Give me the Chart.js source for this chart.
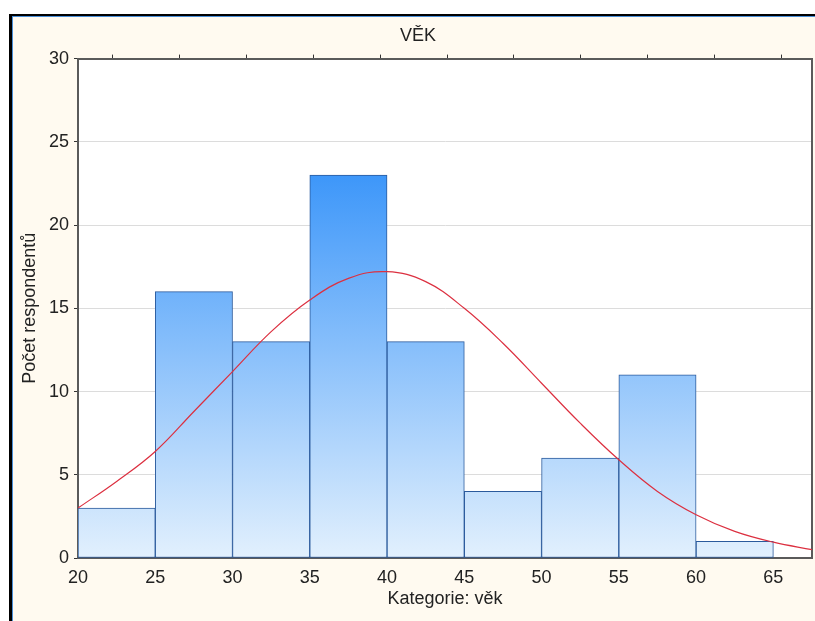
<!DOCTYPE html>
<html>
<head>
<meta charset="utf-8">
<script src="https://cdn.jsdelivr.net/npm/chart.js@4.4.1/dist/chart.umd.min.js"></script>
<style>
  html, body { margin: 0; padding: 0; background: #fff; }
  body { width: 815px; height: 621px; position: relative; overflow: hidden; }
  .frame {
    position: absolute; left: 9px; top: 14px; width: 806px; height: 607px;
    border-left: 3px solid #000; border-top: 2px solid #000; box-sizing: border-box;
  }
  .inner {
    width: 100%; height: 100%; box-sizing: border-box;
    border-left: 1px solid #4a8fd8; border-top: 1px solid #4a8fd8;
    background: #fffaf0;
  }
  #chart { position: absolute; left: 0; top: 0; }
</style>
</head>
<body>
<div class="frame"><div class="inner"></div></div>
<canvas id="chart" width="815" height="621"></canvas>
<script>
// histogram bins (midpoints of 5-year classes) and counts
const binMids = [22.5, 27.5, 32.5, 37.5, 42.5, 47.5, 52.5, 57.5, 62.5];
const counts = [3, 16, 13, 23, 13, 4, 6, 11, 1];

// fitted normal curve
const curveX = [20, 22.5, 25, 27.5, 30, 32.5, 35, 37.5, 40, 42.5, 45, 47.5, 50, 52.5, 55, 57.5, 60, 62.5, 65, 67.5];
const curveY = [3.0, 4.6, 6.4, 8.8, 11.2, 13.6, 15.5, 16.8, 17.2, 16.6, 15.0, 12.9, 10.5, 8.1, 5.9, 4.0, 2.6, 1.6, 0.95, 0.5];

const xTicks = [20, 25, 30, 35, 40, 45, 50, 55, 60, 65];
const yTicks = [0, 5, 10, 15, 20, 25, 30];
const topTicks = [0, 1, 2, 3, 4, 5, 6, 7, 8, 9, 10];

const FONT = '"Liberation Sans", Arial, sans-serif';
const TXT = '#222';

function barGradient(context) {
  const chart = context.chart;
  const area = chart.chartArea;
  if (!area) return '#8cc4fb';
  const y = chart.scales.y;
  const g = chart.ctx.createLinearGradient(0, y.getPixelForValue(25), 0, y.getPixelForValue(0));
  g.addColorStop(0, '#2f8ff9');
  g.addColorStop(1, '#e2f0fd');
  return g;
}

const plotBg = {
  id: 'plotBg',
  beforeDraw(chart) {
    const a = chart.chartArea;
    chart.ctx.save();
    chart.ctx.fillStyle = '#fff';
    chart.ctx.fillRect(a.left, a.top, a.right - a.left, a.bottom - a.top);
    chart.ctx.restore();
  }
};

const ctx = document.getElementById('chart').getContext('2d');
new Chart(ctx, {
  data: {
    datasets: [
      {
        type: 'line',
        data: curveX.map((x, i) => ({ x: x, y: curveY[i] })),
        borderColor: '#dc3040',
        borderWidth: 1.2,
        pointRadius: 0,
        tension: 0.4,
        order: 0
      },
      {
        type: 'bar',
        data: binMids.map((x, i) => ({ x: x, y: counts[i] })),
        backgroundColor: barGradient,
        borderColor: '#2a5a9c',
        borderWidth: 1,
        borderSkipped: false,
        barPercentage: 1,
        categoryPercentage: 1,
        order: 1
      }
    ]
  },
  options: {
    responsive: false,
    animation: false,
    devicePixelRatio: 1,
    layout: { padding: { left: 24, right: 3, top: 0, bottom: 0 } },
    plugins: {
      legend: { display: false },
      tooltip: { enabled: false },
      title: {
        display: true,
        text: 'VĚK',
        color: TXT,
        font: { family: FONT, size: 18, weight: 'normal' },
        padding: { top: 25, bottom: 8 }
      }
    },
    scales: {
      x: {
        type: 'linear',
        position: 'bottom',
        min: 20,
        max: 67.5,
        offset: false,
        afterBuildTicks: s => { s.ticks = xTicks.map(v => ({ value: v })); },
        afterFit: s => { s.height = 63; },
        ticks: { color: TXT, font: { family: FONT, size: 18 }, padding: 9, maxRotation: 0 },
        grid: { drawOnChartArea: false, drawTicks: false },
        border: { color: '#5a5a5a', width: 2 },
        title: {
          display: true,
          text: 'Kategorie: věk',
          color: TXT,
          font: { family: FONT, size: 18 },
          padding: { top: 0, bottom: 11 }
        }
      },
      x2: {
        type: 'linear',
        position: 'top',
        min: -0.51,
        max: 10.45,
        afterBuildTicks: s => { s.ticks = topTicks.map(v => ({ value: v })); },
        afterFit: s => { s.height = 4; },
        ticks: { display: false },
        grid: { drawOnChartArea: false, drawTicks: true, tickLength: 4, tickColor: '#333' },
        border: { color: '#5a5a5a', width: 2 }
      },
      y: {
        min: 0,
        max: 30,
        afterBuildTicks: s => { s.ticks = yTicks.map(v => ({ value: v })); },
        afterFit: s => { s.width = 54; },
        ticks: { color: TXT, font: { family: FONT, size: 18 }, padding: 5 },
        grid: { color: '#dcdcdc', tickLength: 4, tickColor: '#333' },
        border: { color: '#5a5a5a', width: 2 },
        title: {
          display: true,
          text: 'Počet respondentů',
          color: TXT,
          font: { family: FONT, size: 18 },
          padding: { top: -5, bottom: 0 }
        }
      },
      y2: {
        position: 'right',
        min: 0,
        max: 30,
        afterFit: s => { s.width = 0; },
        ticks: { display: false },
        grid: { drawOnChartArea: false, drawTicks: false },
        border: { color: '#5a5a5a', width: 2 }
      }
    }
  },
  plugins: [plotBg]
});
</script>
</body>
</html>
